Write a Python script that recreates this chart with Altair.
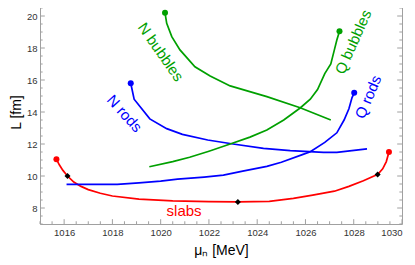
import altair as alt
import pandas as pd
import numpy as np

# slabs (red)
slab_mu = [1015.68, 1015.8, 1015.95, 1016.14, 1016.4, 1016.7, 1017.0, 1017.5, 1018.0, 1019.1, 1020.5, 1022.0, 1023.2,
           1024.5, 1025.5, 1026.3, 1027.2, 1027.8, 1028.4, 1029.0, 1029.2, 1029.35, 1029.46]
slab_L = [11.05, 10.7, 10.35, 10.0, 9.62, 9.35, 9.15, 8.92, 8.75, 8.55, 8.45, 8.4, 8.38,
          8.42, 8.6, 8.8, 9.05, 9.35, 9.7, 10.1, 10.45, 10.9, 11.5]

# N rods (blue)
nrod_mu = [1018.76, 1018.9, 1019.55, 1020.25, 1020.9, 1021.95, 1023.0, 1024.26, 1025.37, 1026.75, 1027.3, 1028.55]
nrod_L = [15.8, 14.8, 13.57, 12.96, 12.6, 12.25, 12.0, 11.73, 11.58, 11.48, 11.48, 11.7]

# Q rods (blue)
qrod_mu = [1016.1, 1018.2, 1019.1, 1020.0, 1020.7, 1021.8, 1022.6, 1023.4, 1024.4, 1025.0,
           1025.9, 1026.2, 1026.8, 1027.3, 1027.6, 1027.8, 1027.93, 1028.02]
qrod_L = [9.48, 9.48, 9.57, 9.68, 9.8, 9.93, 10.05, 10.3, 10.6, 10.86,
          11.35, 11.52, 12.1, 12.7, 13.5, 14.2, 14.9, 15.2]

# N bubbles (green)
nbub_mu = [1020.18, 1020.25, 1020.46, 1020.8, 1021.42, 1022.05, 1022.88, 1024.4, 1025.78, 1027.05]
nbub_L = [20.2, 19.54, 18.71, 17.88, 16.83, 16.25, 15.63, 14.96, 14.27, 13.5]

# Q bubbles (green)
qbub_mu = [1019.53, 1020.5, 1021.2, 1022.0, 1022.88, 1023.7, 1024.4, 1025.1, 1025.78, 1026.2,
           1026.5, 1026.8, 1027.05, 1027.2, 1027.3, 1027.41]
qbub_L = [10.58, 10.9, 11.17, 11.55, 12.0, 12.43, 12.87, 13.5, 14.25, 14.8,
          15.4, 16.4, 17.0, 17.9, 18.5, 19.04]

# black diamonds on slabs
dia_mu = [1016.14, 1023.2, 1028.99]
dia_L = [10.0, 8.38, 10.1]

# labels
lab_text = ["N bubbles", "N rods", "Q bubbles", "Q rods", "slabs"]
lab_mu = [1020.0, 1018.5, 1027.98, 1028.6, 1020.97]
lab_L = [17.75, 13.9, 18.38, 14.94, 7.81]
lab_angle = [55, 48, 294, 293, 0]
lab_color = ["#00a000", "#0000ff", "#00a000", "#0000ff", "#ff0000"]

RED, BLUE, GREEN = "#ff0000", "#0000ff", "#00a000"
FRAME = "#a0a0a0"
FONT = "Liberation Sans"

xs = alt.Scale(domain=[1015, 1030], nice=False, zero=False)
ys = alt.Scale(domain=[7, 21], nice=False, zero=False)

curves = [
    ("slabs", slab_mu, slab_L, RED),
    ("nrods", nrod_mu, nrod_L, BLUE),
    ("qrods", qrod_mu, qrod_L, BLUE),
    ("nbub", nbub_mu, nbub_L, GREEN),
    ("qbub", qbub_mu, qbub_L, GREEN),
]

layers = []

# ticks (inward frame ticks)
x_major = [float(v) for v in np.arange(1016, 1031, 2)]
x_minor = [float(v) for v in np.arange(1015, 1030.01, 0.5) if v not in x_major]
y_major = [float(v) for v in np.arange(8, 21, 2)]
y_minor = [float(v) for v in np.arange(7, 21.01, 0.5) if v not in y_major]

def xticks(vals, ln):
    d = pd.DataFrame({"x": vals})
    b = alt.Chart(d).mark_rule(color=FRAME, strokeWidth=1)
    return [
        b.encode(x=alt.X("x:Q", scale=xs), y=alt.datum(7, scale=ys), y2=alt.datum(7 + ln)),
        b.encode(x=alt.X("x:Q", scale=xs), y=alt.datum(21, scale=ys), y2=alt.datum(21 - ln)),
    ]

def yticks(vals, ln):
    d = pd.DataFrame({"y": vals})
    b = alt.Chart(d).mark_rule(color=FRAME, strokeWidth=1)
    return [
        b.encode(y=alt.Y("y:Q", scale=ys), x=alt.datum(1015, scale=xs), x2=alt.datum(1015 + ln)),
        b.encode(y=alt.Y("y:Q", scale=ys), x=alt.datum(1030, scale=xs), x2=alt.datum(1030 - ln)),
    ]

layers += xticks(x_major, 0.3) + xticks(x_minor, 0.17)
layers += yticks(y_major, 0.2) + yticks(y_minor, 0.11)

for name, mu, L, col in curves:
    d = pd.DataFrame({"mu": mu, "L": L, "i": range(len(mu))})
    layers.append(
        alt.Chart(d).mark_line(color=col, strokeWidth=1.7).encode(
            x=alt.X("mu:Q", scale=xs, title="μₙ [MeV]"),
            y=alt.Y("L:Q", scale=ys, title="L [fm]"),
            order="i:Q",
        )
    )

# end dots
dots_mu = [slab_mu[0], slab_mu[-1], nrod_mu[0], qrod_mu[-1], nbub_mu[0], qbub_mu[-1]]
dots_L = [slab_L[0], slab_L[-1], nrod_L[0], qrod_L[-1], nbub_L[0], qbub_L[-1]]
dots_c = [RED, RED, BLUE, BLUE, GREEN, GREEN]
dd = pd.DataFrame({"mu": dots_mu, "L": dots_L, "c": dots_c})
layers.append(
    alt.Chart(dd).mark_point(filled=True, size=36, opacity=1).encode(
        x=alt.X("mu:Q", scale=xs), y=alt.Y("L:Q", scale=ys),
        color=alt.Color("c:N", scale=None),
    )
)

ddia = pd.DataFrame({"mu": dia_mu, "L": dia_L})
layers.append(
    alt.Chart(ddia).mark_point(filled=True, size=36, shape="diamond", color="black", opacity=1).encode(
        x=alt.X("mu:Q", scale=xs), y=alt.Y("L:Q", scale=ys),
    )
)

dl = pd.DataFrame({"t": lab_text, "mu": lab_mu, "L": lab_L, "a": lab_angle, "c": lab_color})
layers.append(
    alt.Chart(dl).mark_text(font=FONT, fontSize=15, align="center", baseline="middle").encode(
        x=alt.X("mu:Q", scale=xs), y=alt.Y("L:Q", scale=ys),
        text="t:N", angle=alt.Angle("a:Q", scale=None),
        color=alt.Color("c:N", scale=None),
    )
)

chart = alt.layer(*layers).properties(
    width=362, height=224,
    autosize=alt.AutoSizeParams(type="none"),
    padding={"left": 32, "top": -8, "right": 5, "bottom": 41},
).configure_view(
    stroke=FRAME, strokeWidth=1
).configure_axis(
    grid=False, ticks=False, domain=False,
    labelFont=FONT, labelFontSize=9.5, labelColor="#333",
    titleFont=FONT, titleFontSize=14, titleFontWeight="normal", titleColor="#000",
).configure_axisX(
    values=x_major, format="d", labelPadding=3, titlePadding=7,
).configure_axisY(
    values=y_major, format="d", labelPadding=3, titlePadding=3,
)

chart.save("out.html", embed_options={"renderer": "svg", "actions": False})
